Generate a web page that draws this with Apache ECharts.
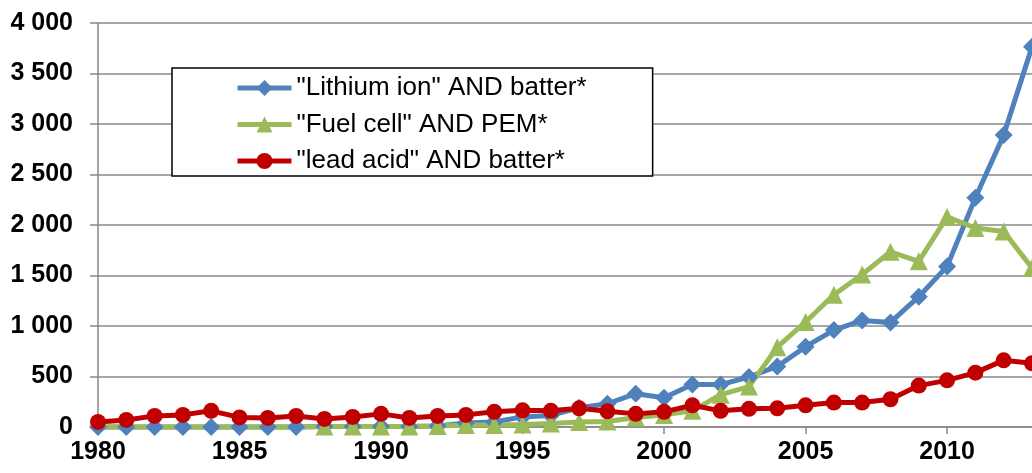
<!DOCTYPE html>
<html>
<head>
<meta charset="utf-8">
<script src="https://cdn.jsdelivr.net/npm/echarts@6/dist/echarts.min.js"></script>
<style>
  html, body { margin: 0; padding: 0; background: #fff; }
  #chart { width: 1032px; height: 473px; }
</style>
</head>
<body>
<div id="chart"></div>
<script>
var years = [];
for (var y = 1980; y <= 2013; y++) years.push(String(y));

var seriesNames = ['"Lithium ion" AND batter*', '"Fuel cell" AND PEM*', '"lead acid" AND batter*'];

var lithium = [0, 0, 0, 0, 0, 0, 0, 0, 5, 5, 5, 5, 10, 40, 50, 100, 115, 190, 230, 330,
               290, 420, 420, 495, 600, 795, 960, 1055, 1035, 1290, 1590, 2270, 2890, 3765];
var fuelCell = [0, 0, 0, 0, 0, 0, 0, 0, 5, 5, 5, 5, 10, 20, 20, 25, 35, 50, 55, 95,
                120, 160, 320, 400, 790, 1040, 1310, 1510, 1735, 1640, 2080, 1970, 1935, 1575];
var leadAcid = [50, 70, 110, 120, 160, 95, 90, 110, 80, 100, 130, 90, 110, 120, 150, 165, 160, 185, 155, 130,
                150, 215, 160, 180, 185, 215, 242, 242, 275, 410, 462, 538, 660, 630];

// fuel cell markers only show from 1988 on
var fuelMarkFrom = 1988;
var fuelData = fuelCell.map(function (v, i) {
    return (1980 + i) < fuelMarkFrom ? { value: v, symbol: 'none' } : v;
});

var font = 'Arial, "Liberation Sans", sans-serif';

var myChart = echarts.init(document.getElementById('chart'));
var option = {
    animation: false,
    backgroundColor: '#fff',
    grid: { left: 98, right: -2, top: 23, bottom: 46, containLabel: false },
    legend: {
        orient: 'vertical',
        left: 172,
        top: 68,
        padding: [7, 66, 2, 63],
        itemGap: 10.5,
        itemWidth: 54,
        itemHeight: 20,
        backgroundColor: '#fff',
        borderColor: '#000',
        borderWidth: 1.5,
        lineStyle: { width: 5 },
        textStyle: { fontFamily: font, fontSize: 26, color: '#000' },
        data: seriesNames
    },
    xAxis: {
        type: 'category',
        data: years,
        boundaryGap: false,
        axisLine: { lineStyle: { color: '#888', width: 1.5 } },
        axisTick: { show: true, interval: 4, length: 7, lineStyle: { color: '#888', width: 1.5 } },
        axisLabel: { interval: 4, margin: 13, fontFamily: font, fontSize: 25, fontWeight: 'bold', color: '#000' }
    },
    yAxis: {
        type: 'value',
        min: 0,
        max: 4000,
        interval: 500,
        axisLine: { show: true, lineStyle: { color: '#888', width: 1.5 } },
        axisTick: { show: true, length: 8, lineStyle: { color: '#888', width: 1.5 } },
        splitLine: { lineStyle: { color: '#888', width: 1.5 } },
        axisLabel: {
            margin: 25,
            fontFamily: font, fontSize: 25, fontWeight: 'bold', color: '#000',
            formatter: function (v) { return String(v).replace(/\B(?=(\d{3})+(?!\d))/g, ' '); }
        }
    },
    series: [
        {
            name: seriesNames[0], type: 'line', data: lithium,
            symbol: 'diamond', symbolSize: 18, clip: false,
            lineStyle: { color: '#4F81BD', width: 5 },
            itemStyle: { color: '#4F81BD' }
        },
        {
            name: seriesNames[1], type: 'line', data: fuelData,
            symbol: 'triangle', symbolSize: 18, clip: false,
            lineStyle: { color: '#9BBB59', width: 5 },
            itemStyle: { color: '#9BBB59' }
        },
        {
            name: seriesNames[2], type: 'line', data: leadAcid,
            symbol: 'circle', symbolSize: 16, clip: false,
            lineStyle: { color: '#C00000', width: 5 },
            itemStyle: { color: '#C00000' }
        }
    ]
};
myChart.setOption(option);
</script>
</body>
</html>
